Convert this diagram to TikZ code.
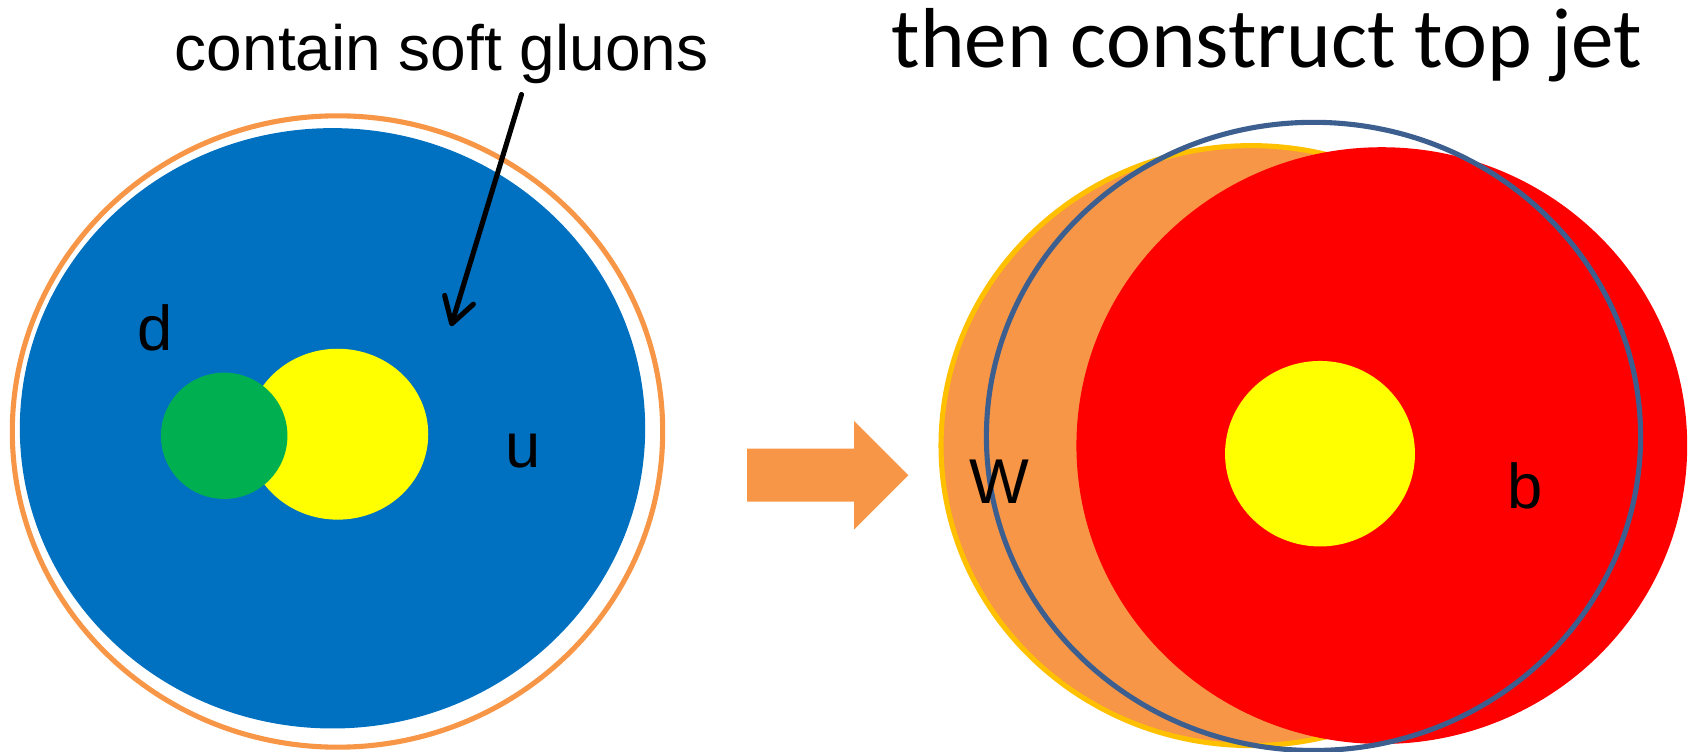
\documentclass[tikz,border=0pt]{standalone}
\usepackage{fontspec}
\setmainfont{Liberation Sans}
\newfontfamily\titlefont{Carlito}
\usetikzlibrary{arrows.meta, shapes.geometric}
\usepackage{xcolor}
\definecolor{jetblue}{HTML}{0070C0}
\definecolor{jetgreen}{HTML}{00B050}
\definecolor{jetyellow}{HTML}{FFFF00}
\definecolor{jetorange}{HTML}{F79646}
\definecolor{jetred}{HTML}{FF0000}
\definecolor{jetgold}{HTML}{FFC000}
\definecolor{jetrim}{HTML}{3C5F8F}

\begin{document}
\begin{tikzpicture}[x=0.01cm, y=-0.01cm,
  blob/.style={ellipse, inner sep=0pt, fill=#1},
  rim/.style={ellipse, inner sep=0pt, draw=#1, line width=1.45pt},
  quark/.style={anchor=base, inner sep=0pt, font=\fontsize{18}{20}\selectfont},
  caption/.style={anchor=base, inner sep=0pt, font=\fontsize{18.2}{22}\selectfont},
  headline/.style={anchor=base, inner sep=0pt, font=\titlefont\fontsize{24.2}{28}\selectfont},
  pointer/.style={-{Straight Barb[length=2.5mm, width=3mm, round]}, line width=1.45pt, line cap=round}
]
\useasboundingbox (0,0) rectangle (1700,752);

% Left: light quark jet
\node[blob=jetblue, minimum width=6.25cm, minimum height=6.0cm] (ujet) at (332.5,428.3) {};
\node[blob=jetyellow, minimum width=1.81cm, minimum height=1.708cm] (ucore) at (337.7,434.2) {};
\node[blob=jetgreen, minimum width=1.264cm, minimum height=1.262cm] (dcore) at (224.2,435.8) {};
\node[rim=jetorange, minimum width=6.50cm, minimum height=6.31cm] (ujetrim) at (337.5,431.5) {};

\node[quark] (dlabel) at (155,350.2) {d};
\node[quark] (ulabel) at (522.6,467.8) {u};

\node[caption] (gluons) at (441.7,71) {contain soft gluons};
\coordinate (gluonfrom) at (521.5,94.5);
\coordinate (gluonto) at (451,326.2);
\draw[pointer] (gluonfrom) -- (gluonto);

% Step arrow
\fill[jetorange] (747,448.7) -- (854,448.7) -- (854,421) -- (908.3,475.3)
  -- (854,529.7) -- (854,501.7) -- (747,501.7) -- cycle;

% Right: top jet
\node[blob=jetorange, draw=jetgold, line width=1.45pt, minimum width=6.20cm, minimum height=5.996cm] (wjet) at (1251.2,445.6) {};
\node[blob=jetred, minimum width=6.104cm, minimum height=5.964cm] (bjet) at (1381.8,445.6) {};
\node[blob=jetyellow, minimum width=1.898cm, minimum height=1.854cm] (bcore) at (1320,453.7) {};
\node[rim=jetrim, minimum width=6.538cm, minimum height=6.278cm] (topjet) at (1313.5,436.4) {};

\node[quark] (wlabel) at (999.5,503.3) {W};
\node[quark] (blabel) at (1525.2,508.4) {b};

\node[headline] (title) at (1266.8,67.1) {then construct top jet};

\end{tikzpicture}
\end{document}
